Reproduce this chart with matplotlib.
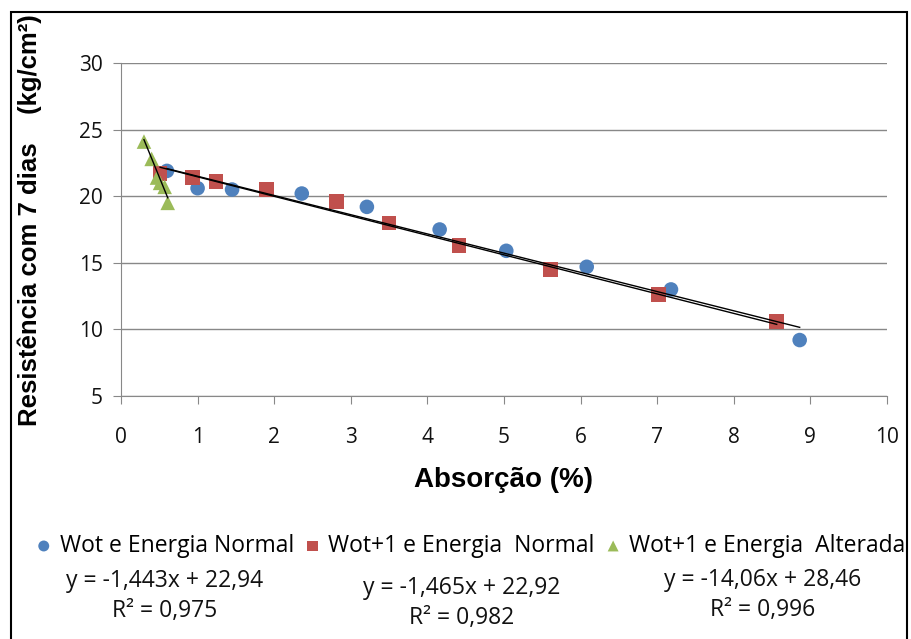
import matplotlib
matplotlib.use("Agg")
import numpy as np
import matplotlib.pyplot as plt
from matplotlib.patches import Rectangle

# ── Data ──────────────────────────────────────────────────────────────────
blue_x = [0.60, 1.00, 1.45, 2.36, 3.21, 4.16, 5.03, 6.08, 7.18, 8.86]
blue_y = [21.9, 20.6, 20.5, 20.2, 19.2, 17.5, 15.9, 14.7, 13.0, 9.2]

red_x = [0.51, 0.93, 1.24, 1.90, 2.81, 3.50, 4.41, 5.61, 7.02, 8.56]
red_y = [21.7, 21.4, 21.1, 20.5, 19.6, 18.0, 16.3, 14.5, 12.6, 10.6]

green_x = [0.30, 0.40, 0.47, 0.51, 0.57, 0.61]
green_y = [24.1, 22.8, 21.4, 21.0, 20.7, 19.5]

# trendline coefficients (slope, intercept) as printed on the chart
fits = [(-1.443, 22.94), (-1.465, 22.92), (-14.06, 28.46)]
eq_texts = [("y = -1,443x + 22,94", "R² = 0,975"),
            ("y = -1,465x + 22,92", "R² = 0,982"),
            ("y = -14,06x + 28,46", "R² = 0,996")]

labels = ["Wot e Energia Normal", "Wot+1 e Energia  Normal", "Wot+1 e Energia  Alterada"]
colors = ["#4F81BD", "#C0504D", "#9BBB59"]
markers = ["o", "s", "^"]

TXT = "Open Sans"
BOLD = "Liberation Sans"

W, H = 912, 639
fig = plt.figure(figsize=(W / 100, H / 100), dpi=100)
ax = fig.add_axes([121 / W, 1 - 396 / H, (887 - 121) / W, (396 - 63) / H])

series = [(blue_x, blue_y), (red_x, red_y), (green_x, green_y)]
for (xs, ys), c, m, lbl, (a, b) in zip(series, colors, markers, labels, fits):
    ax.scatter(xs, ys, c=c, marker=m, s=110, edgecolors="none", zorder=3, label=lbl)
    xl = np.array([min(xs), max(xs)])
    ax.plot(xl, a * xl + b, color="black", lw=1.0, zorder=4)

ax.set_xlim(0, 10)
ax.set_ylim(5, 30)
ax.set_xticks(range(0, 11))
ax.set_yticks(range(5, 31, 5))
ax.yaxis.grid(True, color="#888888", lw=1.0)
ax.set_axisbelow(True)
for s in ["top", "right"]:
    ax.spines[s].set_visible(False)
for s in ["left", "bottom"]:
    ax.spines[s].set_color("#888888")
ax.tick_params(colors="#888888", labelcolor="#111111", labelsize=15, length=6)
ax.tick_params(axis="x", pad=16)
ax.tick_params(axis="y", pad=7)
for t in ax.get_xticklabels() + ax.get_yticklabels():
    t.set_family(TXT)

ax.set_xlabel("Absorção (%)", fontsize=20, fontweight="bold", family=BOLD)
ax.xaxis.set_label_coords(0.5, -0.252)
ax.xaxis.label.set_va("center")
fig.text(30 / W, 1 - 220 / H, "Resistência com 7 dias    (kg/cm²)",
         rotation=90, ha="center", va="center", fontsize=18.5,
         fontweight="bold", family=BOLD)

# legend row
handles, lbls = ax.get_legend_handles_labels()
fig.legend(handles, lbls, loc="center", bbox_to_anchor=(470 / W, 1 - 546 / H),
           ncol=3, frameon=False, handletextpad=0.3, handlelength=0.8,
           columnspacing=0.4, markerscale=0.75, borderpad=0,
           prop={"family": TXT, "size": 16.5})

# trendline equations
eq_pos = [(165, 581, 611), (462, 588, 618), (763, 580, 610)]
for (ex, ey1, ey2), (l1, l2) in zip(eq_pos, eq_texts):
    fig.text(ex / W, 1 - ey1 / H, l1, ha="center", va="center",
             fontsize=16.5, family=TXT, color="#111111")
    fig.text(ex / W, 1 - ey2 / H, l2, ha="center", va="center",
             fontsize=16.5, family=TXT, color="#111111")

# outer frame
fig.patches.append(Rectangle((11 / W, -0.01), (907 - 11) / W, 1 - 12 / H + 0.01,
                             transform=fig.transFigure, fill=False,
                             edgecolor="black", lw=1.5))

fig.savefig("out.png", dpi=100)
